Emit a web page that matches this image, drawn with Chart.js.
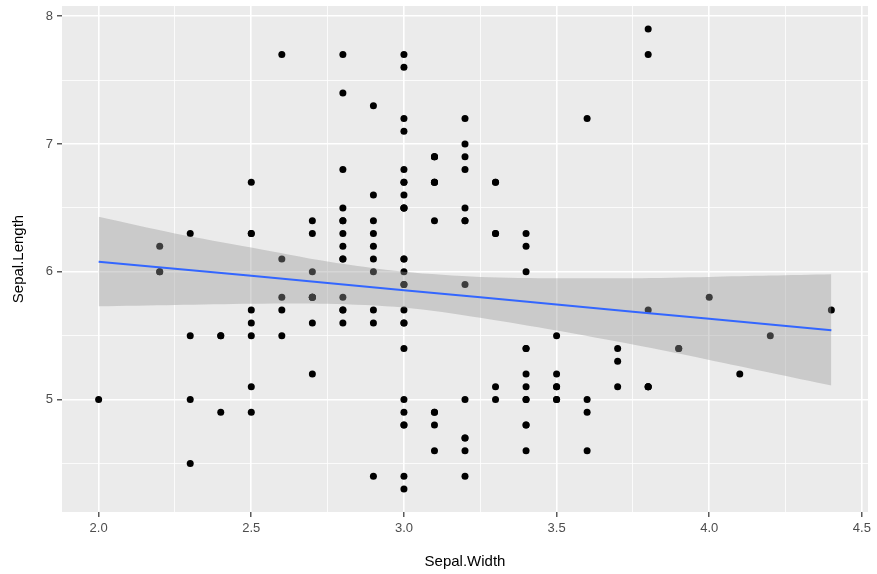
<!DOCTYPE html>
<html>
<head>
<meta charset="utf-8">
<script src="https://cdn.jsdelivr.net/npm/chart.js@4"></script>
<style>
  html, body { margin: 0; padding: 0; background: #fff; }
  #wrap { width: 877px; height: 574px; }
</style>
</head>
<body>
<div id="wrap"><canvas id="scatter"></canvas></div>
<script>
// iris: sepal width (x) and sepal length (y)
const sepalWidth = [
  3.5, 3.0, 3.2, 3.1, 3.6, 3.9, 3.4, 3.4, 2.9, 3.1, 3.7, 3.4, 3.0, 3.0, 4.0, 4.4, 3.9, 3.5, 3.8, 3.8,
  3.4, 3.7, 3.6, 3.3, 3.4, 3.0, 3.4, 3.5, 3.4, 3.2, 3.1, 3.4, 4.1, 4.2, 3.1, 3.2, 3.5, 3.6, 3.0, 3.4,
  3.5, 2.3, 3.2, 3.5, 3.8, 3.0, 3.8, 3.2, 3.7, 3.3, 3.2, 3.2, 3.1, 2.3, 2.8, 2.8, 3.3, 2.4, 2.9, 2.7,
  2.0, 3.0, 2.2, 2.9, 2.9, 3.1, 3.0, 2.7, 2.2, 2.5, 3.2, 2.8, 2.5, 2.8, 2.9, 3.0, 2.8, 3.0, 2.9, 2.6,
  2.4, 2.4, 2.7, 2.7, 3.0, 3.4, 3.1, 2.3, 3.0, 2.5, 2.6, 3.0, 2.6, 2.3, 2.7, 3.0, 2.9, 2.9, 2.5, 2.8,
  3.3, 2.7, 3.0, 2.9, 3.0, 3.0, 2.5, 2.9, 2.5, 3.6, 3.2, 2.7, 3.0, 2.5, 2.8, 3.2, 3.0, 3.8, 2.6, 2.2,
  3.2, 2.8, 2.8, 2.7, 3.3, 3.2, 2.8, 3.0, 2.8, 3.0, 2.8, 3.8, 2.8, 2.8, 2.6, 3.0, 3.4, 3.1, 3.0, 3.1,
  3.1, 3.1, 2.7, 3.2, 3.3, 3.0, 2.5, 3.0, 3.4, 3.0
];
const sepalLength = [
  5.1, 4.9, 4.7, 4.6, 5.0, 5.4, 4.6, 5.0, 4.4, 4.9, 5.4, 4.8, 4.8, 4.3, 5.8, 5.7, 5.4, 5.1, 5.7, 5.1,
  5.4, 5.1, 4.6, 5.1, 4.8, 5.0, 5.0, 5.2, 5.2, 4.7, 4.8, 5.4, 5.2, 5.5, 4.9, 5.0, 5.5, 4.9, 4.4, 5.1,
  5.0, 4.5, 4.4, 5.0, 5.1, 4.8, 5.1, 4.6, 5.3, 5.0, 7.0, 6.4, 6.9, 5.5, 6.5, 5.7, 6.3, 4.9, 6.6, 5.2,
  5.0, 5.9, 6.0, 6.1, 5.6, 6.7, 5.6, 5.8, 6.2, 5.6, 5.9, 6.1, 6.3, 6.1, 6.4, 6.6, 6.8, 6.7, 6.0, 5.7,
  5.5, 5.5, 5.8, 6.0, 5.4, 6.0, 6.7, 6.3, 5.6, 5.5, 5.5, 6.1, 5.8, 5.0, 5.6, 5.7, 5.7, 6.2, 5.1, 5.7,
  6.3, 5.8, 7.1, 6.3, 6.5, 7.6, 4.9, 7.3, 6.7, 7.2, 6.5, 6.4, 6.8, 5.7, 5.8, 6.4, 6.5, 7.7, 7.7, 6.0,
  6.9, 5.6, 7.7, 6.3, 6.7, 7.2, 6.2, 6.1, 6.4, 7.2, 7.4, 7.9, 6.4, 6.3, 6.1, 7.7, 6.3, 6.4, 6.0, 6.9,
  6.7, 6.9, 5.8, 6.8, 6.7, 6.7, 6.3, 6.5, 6.2, 5.9
];

// smooth line and its confidence band
const fitX      = [2.0, 2.25, 2.5, 2.75, 3.0, 3.25, 3.5, 3.75, 4.0, 4.2, 4.4];
const fitY      = [6.079, 6.023, 5.968, 5.912, 5.856, 5.800, 5.744, 5.688, 5.633, 5.588, 5.543];
const bandUpper = [6.43, 6.30, 6.19, 6.08, 6.00, 5.96, 5.95, 5.95, 5.96, 5.97, 5.98];
const bandLower = [5.73, 5.74, 5.75, 5.75, 5.72, 5.64, 5.54, 5.43, 5.31, 5.21, 5.11];

const xTickLabels = [2.0, 2.5, 3.0, 3.5, 4.0, 4.5];
const yTickLabels = [5, 6, 7, 8];

const near = (v, list) => list.some(t => Math.abs(t - v) < 1e-6);

const panelBg = {
  id: 'panelBg',
  beforeDraw(chart) {
    const { ctx, chartArea: a } = chart;
    ctx.save();
    ctx.fillStyle = '#EBEBEB';
    ctx.fillRect(a.left, a.top, a.right - a.left, a.bottom - a.top);
    ctx.restore();
  }
};

const points = sepalWidth.map((w, i) => ({ x: w, y: sepalLength[i] }));
const lineData = fitX.map((x, i) => ({ x: x, y: fitY[i] }));
const upperData = fitX.map((x, i) => ({ x: x, y: bandUpper[i] }));
const lowerData = fitX.map((x, i) => ({ x: x, y: bandLower[i] }));

new Chart(document.getElementById('scatter'), {
  type: 'scatter',
  data: {
    datasets: [
      {
        label: 'fit',
        data: lineData,
        showLine: true,
        borderColor: '#3366FF',
        borderWidth: 2,
        pointRadius: 0,
        fill: false,
        order: 0
      },
      {
        label: 'upper',
        data: upperData,
        showLine: true,
        borderWidth: 0,
        borderColor: 'rgba(0,0,0,0)',
        pointRadius: 0,
        backgroundColor: 'rgba(153,153,153,0.4)',
        fill: '+1',
        tension: 0.3,
        order: 1
      },
      {
        label: 'lower',
        data: lowerData,
        showLine: true,
        borderWidth: 0,
        borderColor: 'rgba(0,0,0,0)',
        pointRadius: 0,
        fill: false,
        tension: 0.3,
        order: 1
      },
      {
        label: 'points',
        data: points,
        pointRadius: 3.5,
        pointBackgroundColor: '#000',
        pointBorderWidth: 0,
        order: 2
      }
    ]
  },
  options: {
    responsive: true,
    maintainAspectRatio: false,
    animation: false,
    layout: { padding: { top: 0, right: 9, left: 0, bottom: 0 } },
    plugins: {
      legend: { display: false },
      tooltip: { enabled: false }
    },
    scales: {
      x: {
        type: 'linear',
        min: 1.88,
        max: 4.52,
        afterFit(scale) { scale.height = 62; },
        border: { display: false },
        grid: {
          color: '#FFFFFF',
          lineWidth: ctx => near(ctx.tick.value, xTickLabels) ? 1.6 : 0.8,
          tickColor: ctx => near(ctx.tick.value, xTickLabels) ? '#333333' : 'rgba(0,0,0,0)',
          tickLength: 5,
          tickWidth: 1.2
        },
        ticks: {
          stepSize: 0.25,
          includeBounds: false,
          autoSkip: false,
          maxRotation: 0,
          padding: 4,
          color: '#4D4D4D',
          font: { family: 'Liberation Sans', size: 13 },
          callback: v => near(v, xTickLabels) ? v.toFixed(1) : ''
        },
        title: {
          display: true,
          text: 'Sepal.Width',
          color: '#000',
          font: { family: 'Liberation Sans', size: 15 },
          padding: { top: 4, bottom: 3 }
        }
      },
      y: {
        type: 'linear',
        min: 4.12,
        max: 8.08,
        afterFit(scale) {
          scale.width = 62;
          scale.paddingTop = 6;
        },
        border: { display: false },
        grid: {
          color: '#FFFFFF',
          lineWidth: ctx => near(ctx.tick.value, yTickLabels) ? 1.6 : 0.8,
          tickColor: ctx => near(ctx.tick.value, yTickLabels) ? '#333333' : 'rgba(0,0,0,0)',
          tickLength: 5,
          tickWidth: 1.2
        },
        ticks: {
          stepSize: 0.5,
          includeBounds: false,
          autoSkip: false,
          padding: 4,
          color: '#4D4D4D',
          font: { family: 'Liberation Sans', size: 13, lineHeight: 0.9 },
          callback: v => near(v, yTickLabels) ? String(v) : ''
        },
        title: {
          display: true,
          text: 'Sepal.Length',
          color: '#000',
          font: { family: 'Liberation Sans', size: 15 },
          padding: { top: 10, bottom: 4 }
        }
      }
    }
  },
  plugins: [panelBg]
});
</script>
</body>
</html>
